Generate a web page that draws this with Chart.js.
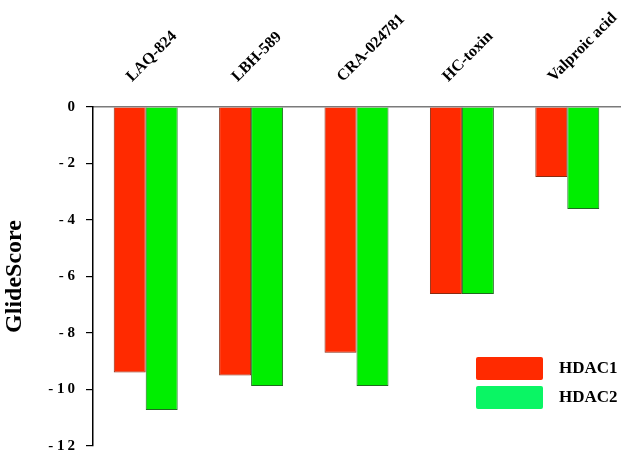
<!DOCTYPE html>
<html>
<head>
<meta charset="utf-8">
<script src="https://cdn.jsdelivr.net/npm/chart.js@4"></script>
<style>
  html, body { margin: 0; padding: 0; background: #fff; }
  #wrap { width: 630px; height: 455px; }
</style>
</head>
<body>
<div id="wrap"><canvas id="myChart"></canvas></div>
<script>
"use strict";

var compounds = ["LAQ-824", "LBH-589", "CRA-024781", "HC-toxin", "Valproic acid"];
var hdac1 = [-9.4, -9.5, -8.7, -6.62, -2.48];
var hdac2 = [-10.73, -9.88, -9.88, -6.62, -3.61];
var yTicks = [0, -2, -4, -6, -8, -10, -12];

var serif = "'Liberation Serif', 'Times New Roman', serif";

// legend drawn inside the plot, bottom right
var boxLegend = {
    id: "boxLegend",
    afterDraw: function(chart) {
        var c = chart.ctx;
        var items = [
            { text: "HDAC1", color: "#ff2a00", y: 357 },
            { text: "HDAC2", color: "#0af564", y: 386 }
        ];
        c.save();
        items.forEach(function(it) {
            c.fillStyle = it.color;
            c.beginPath();
            c.roundRect(476, it.y, 67, 23, 2);
            c.fill();
            c.fillStyle = "#000";
            c.font = "bold 17px " + serif;
            c.textBaseline = "middle";
            c.textAlign = "left";
            c.fillText(it.text, 559, it.y + 12);
        });
        c.restore();
    }
};

function noPad(scale) {
    scale.paddingLeft = 0;
    scale.paddingRight = 0;
    scale.paddingTop = 0;
    scale.paddingBottom = 0;
}

var ctx = document.getElementById("myChart");
var myChart = new Chart(ctx, {
    type: "bar",
    data: {
        labels: compounds,
        datasets: [
            {
                label: "HDAC1",
                data: hdac1,
                backgroundColor: "#ff2a00",
                borderColor: "#8a2a10",
                borderWidth: 1
            },
            {
                label: "HDAC2",
                data: hdac2,
                backgroundColor: "#00ee00",
                borderColor: "#1f6a1f",
                borderWidth: 1
            }
        ]
    },
    options: {
        responsive: true,
        maintainAspectRatio: false,
        animation: false,
        layout: { padding: { left: 0, right: 10, top: 0, bottom: 9 } },
        datasets: { bar: { barPercentage: 1, categoryPercentage: 0.607 } },
        plugins: {
            legend: { display: false },
            tooltip: { enabled: false }
        },
        scales: {
            x: {
                position: "top",
                grid: { display: false, drawTicks: false },
                border: { display: true, color: "#7a7a7a", width: 1.5 },
                ticks: {
                    minRotation: 45,
                    maxRotation: 45,
                    padding: 21,
                    labelOffset: -3,
                    color: "#000",
                    font: { family: serif, weight: "bold", size: 16 }
                },
                afterFit: function(scale) { scale.height = 107; noPad(scale); }
            },
            y: {
                min: -12,
                max: 0,
                afterBuildTicks: function(scale) {
                    scale.ticks = yTicks.map(function(v) { return { value: v }; });
                },
                grid: { drawOnChartArea: false, drawTicks: true, tickLength: 7, color: "#000", lineWidth: 1.2 },
                border: { color: "#000", width: 1.5 },
                ticks: {
                    padding: 11,
                    color: "#000",
                    font: { family: serif, weight: "bold", size: 15 },
                    callback: function(v) {
                        if (v === 0) return "0";
                        return "- " + String(-v).split("").join("\u2009");
                    }
                },
                title: {
                    display: true,
                    text: "GlideScore",
                    color: "#000",
                    padding: { top: 0, bottom: 0 },
                    font: { family: serif, weight: "bold", size: 24 }
                },
                afterFit: function(scale) { scale.width = 93; noPad(scale); }
            }
        }
    },
    plugins: [boxLegend]
});
</script>
</body>
</html>
